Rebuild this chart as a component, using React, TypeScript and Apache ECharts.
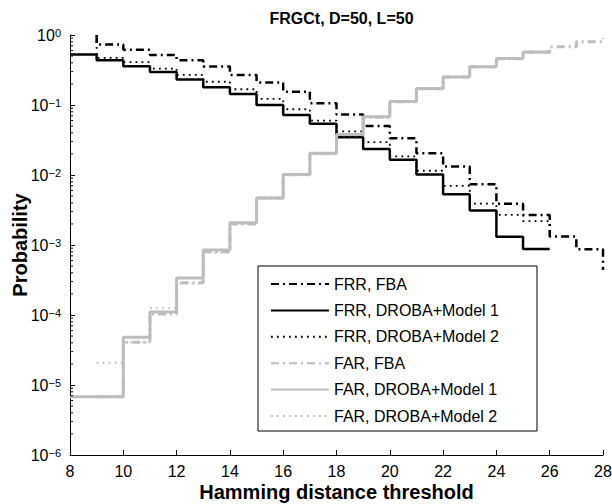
import React, { useEffect, useRef } from 'react';
import * as echarts from 'echarts';

const TITLE = 'FRGCt, D=50, L=50';
const X_NAME = 'Hamming distance threshold';
const Y_NAME = 'Probability';
const X_MIN = 8;
const X_MAX = 28;
const X_STEP = 2;
const Y_MIN = 1e-6;
const Y_MAX = 1;

const SERIES_NAMES = [
  'FRR, FBA',
  'FRR, DROBA+Model 1',
  'FRR, DROBA+Model 2',
  'FAR, FBA',
  'FAR, DROBA+Model 1',
  'FAR, DROBA+Model 2',
];

// stairs: value at threshold x holds until x+1 (first x given separately)
const FRR_FBA_X0 = 9;
const FRR_FBA_ENTRY = 1.0;
const FRR_FBA = [0.73, 0.615, 0.52, 0.437, 0.355, 0.268, 0.21, 0.155, 0.106, 0.073, 0.05, 0.0334,
  0.0204, 0.0132, 0.0074, 0.0039, 0.00268, 0.00132, 0.00087, 0.00044];

const FRR_M1_X0 = 8;
const FRR_M1 = [0.525, 0.435, 0.357, 0.295, 0.231, 0.18, 0.144, 0.1, 0.072, 0.054, 0.0345, 0.0235,
  0.0165, 0.0102, 0.0053, 0.0031, 0.00131, 0.00088, 0.00088];

const FRR_M2_X0 = 9;
const FRR_M2_ENTRY = 1.0;
const FRR_M2 = [0.47, 0.41, 0.33, 0.27, 0.215, 0.168, 0.122, 0.087, 0.06, 0.042, 0.0295, 0.0185,
  0.0115, 0.007, 0.0039, 0.0027, 0.0022, 0.0016];

const FAR_FBA_X0 = 9;
const FAR_FBA = [6.8e-6, 4.07e-5, 1.03e-4, 2.9e-4, 8.0e-4, 2.0e-3, 4.7e-3, 0.0101, 0.0202, 0.038,
  0.067, 0.111, 0.171, 0.251, 0.352, 0.458, 0.568, 0.68, 0.8, 0.9];

const FAR_M1_X0 = 8;
const FAR_M1 = [6.8e-6, 6.8e-6, 4.8e-5, 1.1e-4, 3.38e-4, 8.5e-4, 2.08e-3, 4.7e-3, 0.0102, 0.0204,
  0.038, 0.068, 0.112, 0.172, 0.252, 0.353, 0.46, 0.572, 0.572];

const FAR_M2_X0 = 9;
const FAR_M2 = [2.08e-5, 4.07e-5, 1.25e-4, 2.8e-4, 7.8e-4, 2.0e-3, 4.6e-3, 0.01, 0.02, 0.037,
  0.067, 0.11, 0.17, 0.25, 0.35, 0.455, 0.565, 0.565];

const FONT = '"Liberation Sans", Arial, Helvetica, sans-serif';
const GRAY = '#bdbdbd';

function stairData(x0: number, ys: number[], entry?: number): [number, number][] {
  const pts: [number, number][] = [];
  if (entry !== undefined) pts.push([x0, entry]);
  ys.forEach((y, i) => pts.push([x0 + i, y]));
  return pts;
}

function minorTicks(): [number, number][] {
  const out: [number, number][] = [];
  const lo = Math.round(Math.log10(Y_MIN));
  const hi = Math.round(Math.log10(Y_MAX));
  for (let k = lo; k < hi; k++) {
    for (let m = 2; m <= 9; m++) out.push([X_MIN, m * Math.pow(10, k)]);
  }
  return out;
}

export default function App() {
  const ref = useRef<HTMLDivElement>(null);
  useEffect(() => {
    if (!ref.current) return;
    const chart = echarts.init(ref.current, undefined, { renderer: 'svg' });
    const mk = (name: string, data: [number, number][], color: string, width: number, type: any) => ({
      name,
      type: 'line',
      step: 'end',
      data,
      symbol: 'none',
      showSymbol: false,
      clip: true,
      itemStyle: { color },
      lineStyle: { color, width, type, cap: 'butt' },
      z: 2,
    });
    const option: any = {
      animation: false,
      backgroundColor: '#fff',
      title: {
        text: TITLE,
        left: 336.5,
        top: 5,
        textAlign: 'center',
        textStyle: { fontFamily: FONT, fontWeight: 'bold', fontSize: 16, color: '#000' },
      },
      grid: { left: 70, right: 9, top: 35, bottom: 49, containLabel: false, outerBoundsMode: 'none' },
      xAxis: {
        type: 'value',
        min: X_MIN,
        max: X_MAX,
        interval: X_STEP,
        name: X_NAME,
        nameLocation: 'middle',
        nameGap: 27,
        nameMoveOverlap: false,
        nameTextStyle: { fontFamily: FONT, fontWeight: 'bold', fontSize: 20, color: '#000' },
        axisLine: { show: true, onZero: false, lineStyle: { color: '#000', width: 1 } },
        axisTick: { show: true, inside: true, length: 5, lineStyle: { color: '#000', width: 1 } },
        axisLabel: { fontFamily: FONT, fontSize: 16, color: '#000', margin: 8 },
        splitLine: { show: false },
      },
      yAxis: {
        type: 'log',
        logBase: 10,
        min: Y_MIN,
        max: Y_MAX,
        splitNumber: 6,
        name: Y_NAME,
        nameLocation: 'middle',
        nameGap: 40,
        nameMoveOverlap: false,
        nameTextStyle: { fontFamily: FONT, fontWeight: 'bold', fontSize: 20, color: '#000' },
        axisLine: { show: true, lineStyle: { color: '#000', width: 1 } },
        axisTick: { show: true, inside: true, length: 5, lineStyle: { color: '#000', width: 1 } },
        splitLine: { show: false },
        axisLabel: {
          margin: 9,
          formatter: (v: number) => {
            const e = Math.round(Math.log10(v));
            return '{b|10}{e|' + (e < 0 ? '\u2212' + -e : String(e)) + '}';
          },
          rich: {
            b: { fontFamily: FONT, fontSize: 16, color: '#000', verticalAlign: 'bottom', lineHeight: 16, padding: [5, 0, 0, 0] },
            e: { fontFamily: FONT, fontSize: 11, color: '#000', verticalAlign: 'top', lineHeight: 11 },
          },
        },
      },
      legend: {
        data: SERIES_NAMES,
        orient: 'vertical',
        left: 270,
        top: 276,
        padding: 0,
        itemWidth: 58,
        itemHeight: 16,
        itemGap: 10.4,
        itemStyle: { opacity: 0 },
        textStyle: { fontFamily: FONT, fontSize: 16, color: '#000', padding: [0, 0, 0, 0] },
        selectedMode: false,
        z: 6,
      },
      graphic: [
        {
          type: 'rect',
          shape: { x: 258, y: 266, width: 279, height: 165 },
          style: { fill: '#fff', stroke: '#000', lineWidth: 1 },
          z: 3,
        },
      ],
      series: [
        mk(SERIES_NAMES[0], stairData(FRR_FBA_X0, FRR_FBA, FRR_FBA_ENTRY), '#000', 2.5, [8, 4, 2, 4]),
        mk(SERIES_NAMES[1], stairData(FRR_M1_X0, FRR_M1), '#000', 2.5, 'solid'),
        mk(SERIES_NAMES[2], stairData(FRR_M2_X0, FRR_M2, FRR_M2_ENTRY), '#000', 1.8, [1.8, 4.2]),
        mk(SERIES_NAMES[3], stairData(FAR_FBA_X0, FAR_FBA), GRAY, 3, [8, 4, 2, 4]),
        mk(SERIES_NAMES[4], stairData(FAR_M1_X0, FAR_M1), GRAY, 3, 'solid'),
        mk(SERIES_NAMES[5], stairData(FAR_M2_X0, FAR_M2), GRAY, 1.8, [1.8, 4.2]),
        {
          type: 'custom',
          name: 'minor',
          silent: true,
          clip: false,
          data: minorTicks(),
          renderItem: (_p: any, api: any) => {
            const c = api.coord([api.value(0), api.value(1)]);
            return {
              type: 'line',
              shape: { x1: c[0], y1: c[1], x2: c[0] + 3, y2: c[1] },
              style: { stroke: '#000', lineWidth: 1 },
            };
          },
          z: 3,
        },
      ],
    };
    chart.setOption(option);
    return () => chart.dispose();
  }, []);
  return (
    <div
      ref={ref}
      style={{ position: 'fixed', left: 0, top: 0, width: 612, height: 504, background: '#fff' }}
    />
  );
}
